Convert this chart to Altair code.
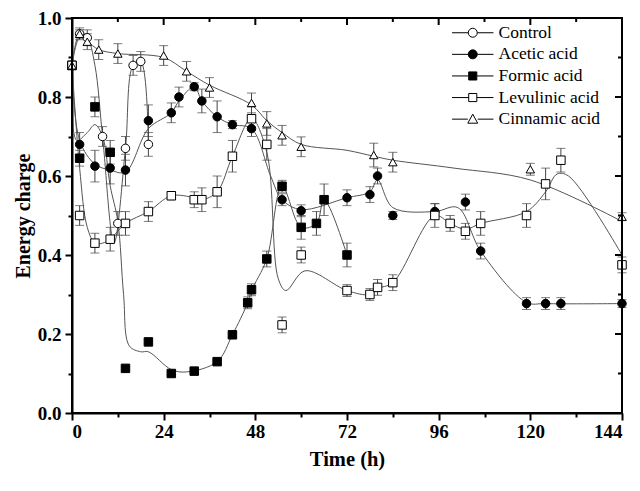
import altair as alt
import pandas as pd

series_names = ["Control", "Acetic acid", "Formic acid", "Levulinic acid", "Cinnamic acid"]
marker_shapes = ["circle", "circle", "square", "square", "triangle-up"]
marker_fills = ["white", "black", "black", "white", "white"]
legend_paths = [
    "M-4.6,0H-1M1,0H4.6M-1,0A1,1,0,1,1,1,0A1,1,0,1,1,-1,0Z",
    "M-4.6,0H-1M1,0H4.6M-1,0A1,1,0,1,1,1,0A1,1,0,1,1,-1,0Z",
    "M-4.6,0H-0.9M0.9,0H4.6M-0.9,-0.9H0.9V0.9H-0.9Z",
    "M-4.6,0H-0.9M0.9,0H4.6M-0.9,-0.9H0.9V0.9H-0.9Z",
    "M-4.6,0H-1.1M1.1,0H4.6M0,-1.1L1.1,0.9H-1.1Z",
]

# ---- measured points (time h, energy charge, error) ----
control_time = [0, 2, 4, 8, 12, 14, 16, 18, 20]
control_value = [0.88, 0.96, 0.95, 0.70, 0.48, 0.67, 0.88, 0.89, 0.68]
control_error = [0.01, 0.015, 0.02, 0.025, 0.03, 0.03, 0.025, 0.025, 0.03]

acetic_time = [0, 2, 6, 10, 14, 20, 26, 28, 32, 34, 38, 42, 47, 55, 60, 72, 78, 80, 84, 95, 103, 107, 119, 124, 128, 144]
acetic_value = [0.88, 0.68, 0.625, 0.62, 0.615, 0.74, 0.76, 0.80, 0.826, 0.79, 0.75, 0.73, 0.72, 0.54, 0.512,
                0.545, 0.553, 0.60, 0.50, 0.51, 0.534, 0.41, 0.277, 0.277, 0.277, 0.277]
acetic_error = [0.01, 0.03, 0.04, 0.04, 0.04, 0.04, 0.025, 0.025, 0.01, 0.03, 0.04, 0.01, 0.02, 0.015, 0.015,
                0.02, 0.02, 0.02, 0.01, 0.02, 0.02, 0.02, 0.015, 0.015, 0.015, 0.01]

formic_time = [0, 2, 6, 10, 14, 20, 26, 32, 38, 42, 46, 47, 51, 55, 60, 64, 66, 72]
formic_value = [0.88, 0.645, 0.775, 0.66, 0.113, 0.18, 0.10, 0.106, 0.13, 0.198, 0.279, 0.312, 0.39, 0.574,
                0.47, 0.48, 0.54, 0.40]
formic_error = [0.01, 0.02, 0.025, 0.03, 0.004, 0.004, 0.004, 0.004, 0.004, 0.004, 0.015, 0.015, 0.02, 0.015,
                0.03, 0.03, 0.04, 0.03]

levulinic_time = [0, 2, 6, 10, 14, 20, 26, 32, 34, 38, 42, 47, 51, 55, 60, 72, 78, 80, 84, 95, 99, 103, 107,
                  119, 124, 128, 144]
levulinic_value = [0.88, 0.50, 0.43, 0.44, 0.48, 0.51, 0.55, 0.54, 0.54, 0.56, 0.65, 0.745, 0.68, 0.223, 0.40,
                   0.31, 0.30, 0.318, 0.33, 0.50, 0.48, 0.46, 0.48, 0.50, 0.58, 0.64, 0.375]
levulinic_error = [0.01, 0.025, 0.025, 0.03, 0.03, 0.025, 0.01, 0.02, 0.03, 0.04, 0.04, 0.03, 0.04, 0.02, 0.02,
                   0.015, 0.015, 0.02, 0.02, 0.03, 0.02, 0.02, 0.03, 0.03, 0.04, 0.03, 0.02]

cinnamic_time = [0, 2, 4, 7, 12, 24, 30, 36, 47, 51, 55, 60, 79, 84, 120, 144]
cinnamic_value = [0.88, 0.96, 0.94, 0.92, 0.91, 0.905, 0.865, 0.824, 0.785, 0.733, 0.703, 0.674, 0.653, 0.635,
                  0.617, 0.497]
cinnamic_error = [0.01, 0.01, 0.02, 0.025, 0.025, 0.025, 0.025, 0.025, 0.025, 0.03, 0.025, 0.025, 0.03, 0.025,
                  0.015, 0.01]

# ---- fitted curves as drawn ----
control_curve_time = [0, 2, 4, 6, 8, 11, 14, 16, 18, 20]
control_curve_value = [0.88, 0.96, 0.95, 0.88, 0.70, 0.43, 0.67, 0.88, 0.89, 0.68]

acetic_curve_time = [0, 2, 6, 10, 14, 20, 26, 28, 32, 34, 38, 42, 47, 52, 55, 60, 72, 78, 80, 84, 95, 101, 107,
                     119, 124, 144]
acetic_curve_value = [0.88, 0.69, 0.63, 0.615, 0.61, 0.72, 0.76, 0.79, 0.826, 0.79, 0.75, 0.73, 0.72, 0.60, 0.54,
                      0.515, 0.545, 0.56, 0.59, 0.52, 0.51, 0.52, 0.41, 0.28, 0.277, 0.277]

formic_curve_time = [0, 1.2, 4, 6, 8, 10, 12, 13.5, 15, 18, 20, 26, 30, 38, 42, 46, 47, 51, 55, 60, 64, 66, 72]
formic_curve_value = [0.88, 0.69, 0.71, 0.73, 0.70, 0.575, 0.485, 0.30, 0.17, 0.155, 0.155, 0.11, 0.104, 0.13,
                      0.198, 0.279, 0.31, 0.39, 0.574, 0.47, 0.48, 0.54, 0.40]

levulinic_curve_time = [0, 2, 4, 6, 8, 10, 14, 20, 26, 32, 34, 38, 42, 47, 51, 54, 56, 61, 72, 78, 80, 84, 95,
                        99, 103, 107, 119, 124, 127, 130, 144]
levulinic_curve_value = [0.88, 0.62, 0.47, 0.43, 0.43, 0.44, 0.48, 0.51, 0.55, 0.545, 0.54, 0.56, 0.65, 0.745,
                         0.66, 0.34, 0.31, 0.36, 0.31, 0.30, 0.315, 0.33, 0.50, 0.48, 0.465, 0.48, 0.51, 0.56,
                         0.605, 0.60, 0.40]

cinnamic_curve_time = [0, 2, 4, 7, 12, 24, 30, 36, 47, 51, 55, 60, 72, 79, 84, 100, 120, 144]
cinnamic_curve_value = [0.88, 0.95, 0.94, 0.92, 0.91, 0.90, 0.865, 0.83, 0.78, 0.74, 0.71, 0.68, 0.665, 0.65,
                        0.64, 0.62, 0.59, 0.485]

x_major = [0, 24, 48, 72, 96, 120, 144]
x_minor = [12, 36, 60, 84, 108, 132]
y_major = [0.0, 0.2, 0.4, 0.6, 0.8, 1.0]
y_minor = [0.1, 0.3, 0.5, 0.7, 0.9]

# ---- tables ----
pts_src = [
    (0, control_time, control_value, control_error),
    (1, acetic_time, acetic_value, acetic_error),
    (2, formic_time, formic_value, formic_error),
    (3, levulinic_time, levulinic_value, levulinic_error),
    (4, cinnamic_time, cinnamic_value, cinnamic_error),
]
rows = []
for k, ts, vs, es in pts_src:
    for t, v, e in zip(ts, vs, es):
        rows.append({"series": series_names[k], "mshape": marker_shapes[k], "mfill": marker_fills[k],
                     "t": t, "v": v, "lo": v - e, "hi": v + e})
points = pd.DataFrame(rows)

crv_src = [
    (series_names[0], control_curve_time, control_curve_value),
    (series_names[1], acetic_curve_time, acetic_curve_value),
    (series_names[2], formic_curve_time, formic_curve_value),
    (series_names[3], levulinic_curve_time, levulinic_curve_value),
    (series_names[4], cinnamic_curve_time, cinnamic_curve_value),
]
crows = []
for name, ts, vs in crv_src:
    for i, (t, v) in enumerate(zip(ts, vs)):
        crows.append({"series": name, "t": t, "v": v, "idx": i})
curves = pd.DataFrame(crows)

# frame / edge tick tables (domain ends taken from the tick lists)
frame_df = pd.DataFrame({"fx0": [x_major[0]], "fx1": [x_major[-1]], "fy0": [y_major[0]], "fy1": [y_major[-1]]})
xtick_df = pd.DataFrame({"tx": x_major + x_minor,
                         "ty": [y_major[-1]] * (len(x_major) + len(x_minor)),
                         "len": [7] * len(x_major) + [4] * len(x_minor)})
ytick_df = pd.DataFrame({"ry": y_major + y_minor,
                         "rx": [x_major[-1]] * (len(y_major) + len(y_minor)),
                         "len": [7] * len(y_major) + [4] * len(y_minor)})

FONT = "Liberation Serif"
W, H = 550, 395
xscale = alt.Scale(domain=[0, 144], nice=False, zero=False)
yscale = alt.Scale(domain=[0, 1.0], nice=False)

x_axis_main = alt.Axis(
    values=sorted(x_major + x_minor), title="Time (h)",
    labelExpr="datum.value % 24 === 0 ? datum.label : ''",
    tickSize={"condition": {"test": "datum.value % 24 === 0", "value": 7}, "value": 4},
    tickWidth=2, tickColor="black", domain=True, domainColor="black", domainWidth=2, grid=False,
    labelFont=FONT, labelFontWeight="bold", labelFontSize=19, labelColor="black", labelPadding=2,
    titleFont=FONT, titleFontWeight="bold", titleFontSize=20.5, titleColor="black", titlePadding=8,
)
y_axis_main = alt.Axis(
    values=sorted(y_major + y_minor), title="Energy charge", orient="left",
    labelExpr="round(datum.value*10) % 2 === 0 ? format(datum.value, '.1f') : ''",
    tickSize={"condition": {"test": "round(datum.value*10) % 2 === 0", "value": 7}, "value": 4},
    tickWidth=2, tickColor="black", domain=True, domainColor="black", domainWidth=2, grid=False,
    labelFont=FONT, labelFontWeight="bold", labelFontSize=19, labelColor="black", labelPadding=4,
    titleFont=FONT, titleFontWeight="bold", titleFontSize=20, titleColor="black", titlePadding=4,
)

X = alt.X("t:Q", scale=xscale, axis=x_axis_main)
Y = alt.Y("v:Q", scale=yscale, axis=y_axis_main)

lines = alt.Chart(curves).mark_line(interpolate="catmull-rom", color="#555555", strokeWidth=1).encode(
    x=X, y=Y, detail="series:N", order="idx:Q"
)

rules = alt.Chart(points).mark_rule(color="#444444", strokeWidth=1).encode(
    x=X, y=alt.Y("lo:Q", scale=yscale, axis=y_axis_main), y2="hi:Q"
)
cap_lo = alt.Chart(points).mark_tick(orient="horizontal", size=9, thickness=1, color="#444444").encode(
    x=X, y=alt.Y("lo:Q", scale=yscale, axis=y_axis_main)
)
cap_hi = alt.Chart(points).mark_tick(orient="horizontal", size=9, thickness=1, color="#444444").encode(
    x=X, y=alt.Y("hi:Q", scale=yscale, axis=y_axis_main)
)

markers = alt.Chart(points).mark_point(stroke="black", strokeWidth=1, opacity=1, size=72).encode(
    x=X, y=Y,
    shape=alt.Shape("mshape:N", scale=None),
    fill=alt.Fill("mfill:N", scale=None),
)

legend_kw = dict(
    orient="none", legendX=392, legendY=6, title=None, padding=0,
    labelFont=FONT, labelFontSize=17.5, labelFontWeight="normal", labelColor="black",
    symbolSize=81, symbolStrokeWidth=1, labelOffset=17, rowPadding=2.6,
    symbolOpacity=1,
)
legend_layer = alt.Chart(points).mark_point(
    stroke="black", strokeWidth=1, opacity=0, size=81
).encode(
    x=X, y=Y,
    shape=alt.Shape("series:N", scale=alt.Scale(domain=series_names, range=legend_paths),
                    legend=alt.Legend(**legend_kw)),
    fill=alt.Fill("series:N", scale=alt.Scale(domain=series_names, range=marker_fills),
                  legend=alt.Legend(**legend_kw)),
)

main = alt.layer(lines, rules, cap_lo, cap_hi, markers, legend_layer)

# plot frame and inward ticks on the top and right edges (own group, no axes)
frame = alt.Chart(frame_df).mark_rect(fill="transparent", stroke="black", strokeWidth=2).encode(
    x=alt.X("fx0:Q", scale=xscale, axis=None), x2="fx1:Q",
    y=alt.Y("fy0:Q", scale=yscale, axis=None), y2="fy1:Q",
)
top_major = alt.Chart(xtick_df).transform_filter("datum.len == 7").mark_rule(
    color="black", strokeWidth=2, y2Offset=7).encode(
    x=alt.X("tx:Q", scale=xscale, axis=None), y=alt.Y("ty:Q", scale=yscale, axis=None), y2="ty:Q")
top_minor = alt.Chart(xtick_df).transform_filter("datum.len == 4").mark_rule(
    color="black", strokeWidth=2, y2Offset=4).encode(
    x=alt.X("tx:Q", scale=xscale, axis=None), y=alt.Y("ty:Q", scale=yscale, axis=None), y2="ty:Q")
right_major = alt.Chart(ytick_df).transform_filter("datum.len == 7").mark_rule(
    color="black", strokeWidth=2, x2Offset=-7).encode(
    x=alt.X("rx:Q", scale=xscale, axis=None), x2="rx:Q", y=alt.Y("ry:Q", scale=yscale, axis=None))
right_minor = alt.Chart(ytick_df).transform_filter("datum.len == 4").mark_rule(
    color="black", strokeWidth=2, x2Offset=-4).encode(
    x=alt.X("rx:Q", scale=xscale, axis=None), x2="rx:Q", y=alt.Y("ry:Q", scale=yscale, axis=None))

frame_group = alt.layer(frame, top_major, top_minor, right_major, right_minor)

chart = alt.layer(main, frame_group).resolve_axis(
    x="independent", y="independent"
).properties(
    width=W, height=H,
    autosize=alt.AutoSizeParams(type="none"),
    padding={"left": 64, "top": 10, "right": 10, "bottom": 70},
).configure_view(stroke="black", strokeWidth=2)

chart.save("out.html", embed_options={"renderer": "svg", "actions": False})
